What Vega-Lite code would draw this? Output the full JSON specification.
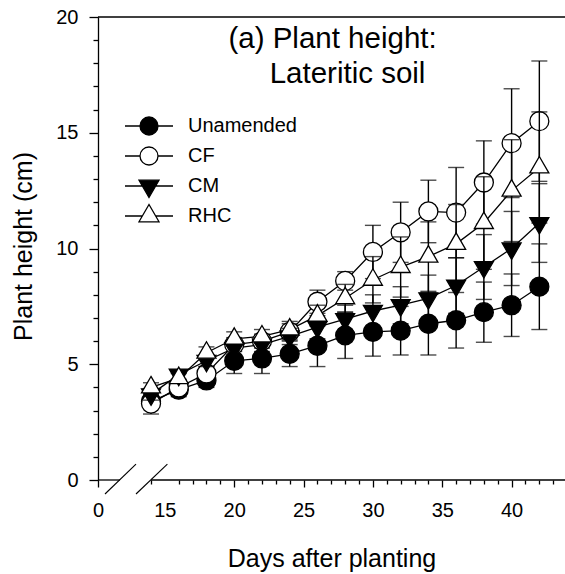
{
  "$schema": "https://vega.github.io/schema/vega-lite/v6.json",
  "width": 467,
  "height": 463,
  "autosize": "none",
  "padding": {"left": 98, "top": 17, "right": 0, "bottom": 94},
  "background": "white",
  "config": {"view": {"stroke": null}, "font": "Liberation Sans"},
  "resolve": {"scale": {"x": "independent", "y": "independent"}, "axis": {"x": "independent", "y": "independent"}},
  "data": {"values": [
    {"day": 14, "trt": "Unamended", "h": 3.4, "se": 0.3},
    {"day": 16, "trt": "Unamended", "h": 3.9, "se": 0.3},
    {"day": 18, "trt": "Unamended", "h": 4.3, "se": 0.3},
    {"day": 20, "trt": "Unamended", "h": 5.15, "se": 0.55},
    {"day": 22, "trt": "Unamended", "h": 5.25, "se": 0.65},
    {"day": 24, "trt": "Unamended", "h": 5.45, "se": 0.55},
    {"day": 26, "trt": "Unamended", "h": 5.8, "se": 0.9},
    {"day": 28, "trt": "Unamended", "h": 6.25, "se": 1.0},
    {"day": 30, "trt": "Unamended", "h": 6.4, "se": 1.05},
    {"day": 32, "trt": "Unamended", "h": 6.45, "se": 1.05},
    {"day": 34, "trt": "Unamended", "h": 6.75, "se": 1.35},
    {"day": 36, "trt": "Unamended", "h": 6.9, "se": 1.2},
    {"day": 38, "trt": "Unamended", "h": 7.25, "se": 1.3},
    {"day": 40, "trt": "Unamended", "h": 7.55, "se": 1.35},
    {"day": 42, "trt": "Unamended", "h": 8.35, "se": 1.85},
    {"day": 14, "trt": "CF", "h": 3.3, "se": 0.45},
    {"day": 16, "trt": "CF", "h": 4.0, "se": 0.3},
    {"day": 18, "trt": "CF", "h": 4.6, "se": 0.3},
    {"day": 20, "trt": "CF", "h": 5.85, "se": 0.3},
    {"day": 22, "trt": "CF", "h": 6.0, "se": 0.3},
    {"day": 24, "trt": "CF", "h": 6.4, "se": 0.35},
    {"day": 26, "trt": "CF", "h": 7.7, "se": 0.5},
    {"day": 28, "trt": "CF", "h": 8.6, "se": 0.4},
    {"day": 30, "trt": "CF", "h": 9.85, "se": 1.15},
    {"day": 32, "trt": "CF", "h": 10.7, "se": 1.3},
    {"day": 34, "trt": "CF", "h": 11.6, "se": 1.35},
    {"day": 36, "trt": "CF", "h": 11.55, "se": 1.95},
    {"day": 38, "trt": "CF", "h": 12.85, "se": 1.8},
    {"day": 40, "trt": "CF", "h": 14.55, "se": 2.35},
    {"day": 42, "trt": "CF", "h": 15.5, "se": 2.6},
    {"day": 14, "trt": "CM", "h": 3.7, "se": 0.25},
    {"day": 16, "trt": "CM", "h": 4.55, "se": 0.2},
    {"day": 18, "trt": "CM", "h": 5.15, "se": 0.25},
    {"day": 20, "trt": "CM", "h": 5.7, "se": 0.3},
    {"day": 22, "trt": "CM", "h": 5.85, "se": 0.3},
    {"day": 24, "trt": "CM", "h": 6.2, "se": 0.35},
    {"day": 26, "trt": "CM", "h": 6.6, "se": 0.5},
    {"day": 28, "trt": "CM", "h": 6.95, "se": 0.6},
    {"day": 30, "trt": "CM", "h": 7.3, "se": 0.7},
    {"day": 32, "trt": "CM", "h": 7.55, "se": 0.8},
    {"day": 34, "trt": "CM", "h": 7.85, "se": 1.0},
    {"day": 36, "trt": "CM", "h": 8.4, "se": 1.2},
    {"day": 38, "trt": "CM", "h": 9.2, "se": 1.4},
    {"day": 40, "trt": "CM", "h": 10.0, "se": 1.6},
    {"day": 42, "trt": "CM", "h": 11.1, "se": 1.7},
    {"day": 14, "trt": "RHC", "h": 4.0, "se": 0.2},
    {"day": 16, "trt": "RHC", "h": 4.4, "se": 0.2},
    {"day": 18, "trt": "RHC", "h": 5.5, "se": 0.25},
    {"day": 20, "trt": "RHC", "h": 6.1, "se": 0.3},
    {"day": 22, "trt": "RHC", "h": 6.2, "se": 0.3},
    {"day": 24, "trt": "RHC", "h": 6.5, "se": 0.35},
    {"day": 26, "trt": "RHC", "h": 7.1, "se": 0.45},
    {"day": 28, "trt": "RHC", "h": 7.85, "se": 0.6},
    {"day": 30, "trt": "RHC", "h": 8.65, "se": 1.0},
    {"day": 32, "trt": "RHC", "h": 9.2, "se": 1.3},
    {"day": 34, "trt": "RHC", "h": 9.65, "se": 1.5},
    {"day": 36, "trt": "RHC", "h": 10.2, "se": 1.7},
    {"day": 38, "trt": "RHC", "h": 11.1, "se": 2.0},
    {"day": 40, "trt": "RHC", "h": 12.5, "se": 2.2},
    {"day": 42, "trt": "RHC", "h": 13.5, "se": 2.4}
  ]},
  "layer": [
    {
      "encoding": {
        "x": {
          "field": "day", "type": "quantitative", "title": "Days after planting",
          "scale": {"domain": [0, 14, 43.85], "range": [0, 53, 467], "nice": false, "zero": false},
          "axis": {
            "values": [0, 14, 15, 16, 17, 18, 19, 20, 21, 22, 23, 24, 25, 26, 27, 28, 29, 30, 31, 32, 33, 34, 35, 36, 37, 38, 39, 40, 41, 42, 43],
            "labelExpr": "(datum.value === 0 || (datum.value >= 15 && datum.value % 5 === 0)) ? datum.label : ''",
            "tickSize": {"condition": {"test": "datum.value % 5 === 0", "value": 7}, "value": 4},
            "tickOpacity": {"condition": {"test": "datum.value === 15", "value": 0}, "value": 1},
            "domain": false, "grid": false, "orient": "bottom",
            "tickColor": "black", "tickWidth": 1.3,
            "labelFont": "Liberation Sans", "labelFontSize": 20, "labelColor": "black",
            "labelBaseline": "alphabetic", "labelPadding": 29,
            "labelFlush": false, "labelOverlap": false, "labelBound": false,
            "titleFont": "Liberation Sans", "titleFontSize": 25, "titleFontWeight": "normal", "titleColor": "black",
            "titleX": 233.5, "titleY": 86, "titleBaseline": "alphabetic", "titleAlign": "center"
          }
        },
        "y": {
          "field": "h", "type": "quantitative", "title": "Plant height (cm)",
          "scale": {"domain": [0, 20], "nice": false, "zero": false},
          "axis": {
            "values": [0, 1, 2, 3, 4, 5, 6, 7, 8, 9, 10, 11, 12, 13, 14, 15, 16, 17, 18, 19, 20],
            "labelExpr": "datum.value % 5 === 0 ? datum.label : ''",
            "tickSize": {"condition": {"test": "datum.value % 5 === 0", "value": 9}, "value": 5},
            "domain": true, "domainColor": "black", "domainWidth": 1.3, "grid": false, "orient": "left",
            "tickColor": "black", "tickWidth": 1.3,
            "labelFont": "Liberation Sans", "labelFontSize": 20, "labelColor": "black",
            "labelPadding": 11, "labelFlush": false, "labelOverlap": false, "labelBound": false,
            "titleFont": "Liberation Sans", "titleFontSize": 25, "titleFontWeight": "normal", "titleColor": "black",
            "titleX": -62, "titleY": 229, "titleAngle": -90, "titleBaseline": "bottom", "titleAlign": "center"
          }
        }
      },
      "layer": [
        {"mark": {"type": "line", "color": "black", "strokeWidth": 1.3},
         "encoding": {"detail": {"field": "trt", "type": "nominal"}}},
        {"transform": [{"filter": "datum.trt === 'Unamended'"}],
         "mark": {"type": "errorbar", "ticks": true, "size": 16, "thickness": 1.4, "color": "black"},
         "encoding": {"yError": {"field": "se"}}},
        {"transform": [{"filter": "datum.trt === 'Unamended'"}],
         "mark": {"type": "point", "shape": "circle", "filled": true, "fill": "black", "stroke": "black", "strokeWidth": 1.3, "size": 361, "opacity": 1}},
        {"transform": [{"filter": "datum.trt === 'CF'"}],
         "mark": {"type": "errorbar", "ticks": true, "size": 16, "thickness": 1.4, "color": "black"},
         "encoding": {"yError": {"field": "se"}}},
        {"transform": [{"filter": "datum.trt === 'CF'"}],
         "mark": {"type": "point", "shape": "circle", "filled": true, "fill": "white", "stroke": "black", "strokeWidth": 1.3, "size": 361, "opacity": 1}},
        {"transform": [{"filter": "datum.trt === 'CM'"}],
         "mark": {"type": "errorbar", "ticks": true, "size": 16, "thickness": 1.4, "color": "black"},
         "encoding": {"yError": {"field": "se"}}},
        {"transform": [{"filter": "datum.trt === 'CM'"}],
         "mark": {"type": "point", "shape": "M0,1.155L1,-0.577L-1,-0.577Z", "filled": true, "fill": "black", "stroke": "black", "strokeWidth": 1.3, "size": 361, "opacity": 1}},
        {"transform": [{"filter": "datum.trt === 'RHC'"}],
         "mark": {"type": "errorbar", "ticks": true, "size": 16, "thickness": 1.4, "color": "black"},
         "encoding": {"yError": {"field": "se"}}},
        {"transform": [{"filter": "datum.trt === 'RHC'"}],
         "mark": {"type": "point", "shape": "M0,-1.155L1,0.577L-1,0.577Z", "filled": true, "fill": "white", "stroke": "black", "strokeWidth": 1.3, "size": 361, "opacity": 1}}
      ]
    },
    {"transform": [{"filter": "false"}],
     "mark": {"type": "point", "filled": true, "strokeWidth": 1.3, "size": 2304, "opacity": 1},
     "encoding": {
       "shape": {"field": "trt", "type": "nominal",
         "scale": {"domain": ["Unamended", "CF", "CM", "RHC"],
                   "range": ["M-1,0H-0.375M0.375,0H1M0,-0.375A0.375,0.375 0 1,1 0,0.375A0.375,0.375 0 1,1 0,-0.375Z",
                             "M-1,0H-0.375M0.375,0H1M0,-0.375A0.375,0.375 0 1,1 0,0.375A0.375,0.375 0 1,1 0,-0.375Z",
                             "M-1,0H-0.278M0.278,0H1M-0.417,-0.241L0.417,-0.241L0,0.481Z",
                             "M-1,0H-0.278M0.278,0H1M-0.417,0.241L0.417,0.241L0,-0.481Z"]},
         "legend": {"title": null, "orient": "none", "legendX": 26, "legendY": 94, "padding": 0,
                    "labelFont": "Liberation Sans", "labelFontSize": 20, "labelColor": "black", "labelOffset": 14,
                    "symbolStrokeColor": "black", "symbolStrokeWidth": 1.3, "symbolSize": 2304, "symbolOpacity": 1,
                    "clipHeight": 30, "rowPadding": 0}},
       "fill": {"field": "trt", "type": "nominal",
         "scale": {"domain": ["Unamended", "CF", "CM", "RHC"], "range": ["black", "white", "black", "white"]},
         "legend": {"title": null, "orient": "none", "legendX": 26, "legendY": 94, "padding": 0,
                    "labelFont": "Liberation Sans", "labelFontSize": 20, "labelColor": "black", "labelOffset": 14,
                    "symbolStrokeColor": "black", "symbolStrokeWidth": 1.3, "symbolSize": 2304, "symbolOpacity": 1,
                    "clipHeight": 30, "rowPadding": 0}},
       "stroke": {"field": "trt", "type": "nominal",
         "scale": {"domain": ["Unamended", "CF", "CM", "RHC"], "range": ["black", "black", "black", "black"]},
         "legend": {"title": null, "orient": "none", "legendX": 26, "legendY": 94, "padding": 0,
                    "labelFont": "Liberation Sans", "labelFontSize": 20, "labelColor": "black", "labelOffset": 14,
                    "symbolStrokeColor": "black", "symbolStrokeWidth": 1.3, "symbolSize": 2304, "symbolOpacity": 1,
                    "clipHeight": 30, "rowPadding": 0}}
     }},
    {"data": {"values": [{}]}, "mark": {"type": "rule", "color": "black", "strokeWidth": 1.3},
     "encoding": {"x": {"datum": 0, "type": "quantitative", "axis": null, "scale": {"domain": [0, 14, 43.85], "range": [0, 53, 467], "nice": false, "zero": false}}, "x2": {"datum": 43.85},
                  "y": {"datum": 20, "type": "quantitative", "axis": null, "scale": {"domain": [0, 20], "nice": false, "zero": false}}}},
    {"data": {"values": [{}]}, "mark": {"type": "rule", "color": "black", "strokeWidth": 1.3},
     "encoding": {"x": {"datum": 0, "type": "quantitative", "axis": null, "scale": {"domain": [0, 14, 43.85], "range": [0, 53, 467], "nice": false, "zero": false}}, "x2": {"datum": 5.81},
                  "y": {"datum": 0, "type": "quantitative", "axis": null, "scale": {"domain": [0, 20], "nice": false, "zero": false}}}},
    {"data": {"values": [{}]}, "mark": {"type": "rule", "color": "black", "strokeWidth": 1.3},
     "encoding": {"x": {"datum": 14, "type": "quantitative", "axis": null, "scale": {"domain": [0, 14, 43.85], "range": [0, 53, 467], "nice": false, "zero": false}}, "x2": {"datum": 43.85},
                  "y": {"datum": 0, "type": "quantitative", "axis": null, "scale": {"domain": [0, 20], "nice": false, "zero": false}}}},
    {"data": {"values": [{}]}, "mark": {"type": "rule", "color": "black", "strokeWidth": 1.1},
     "encoding": {"x": {"datum": 1.85, "type": "quantitative", "axis": null, "scale": {"domain": [0, 14, 43.85], "range": [0, 53, 467], "nice": false, "zero": false}}, "x2": {"datum": 10.04},
                  "y": {"datum": -0.605, "type": "quantitative", "axis": null, "scale": {"domain": [0, 20], "nice": false, "zero": false}}, "y2": {"datum": 0.69}}},
    {"data": {"values": [{}]}, "mark": {"type": "rule", "color": "black", "strokeWidth": 1.1},
     "encoding": {"x": {"datum": 10.04, "type": "quantitative", "axis": null, "scale": {"domain": [0, 14, 43.85], "range": [0, 53, 467], "nice": false, "zero": false}}, "x2": {"datum": 15.18},
                  "y": {"datum": -0.605, "type": "quantitative", "axis": null, "scale": {"domain": [0, 20], "nice": false, "zero": false}}, "y2": {"datum": 0.69}}},
    {"data": {"values": [{}]},
     "mark": {"type": "text", "font": "Liberation Sans", "fontSize": 29.5, "align": "center", "baseline": "alphabetic", "color": "black"},
     "encoding": {"x": {"datum": 27.09, "type": "quantitative", "axis": null, "scale": {"domain": [0, 14, 43.85], "range": [0, 53, 467], "nice": false, "zero": false}},
                  "y": {"datum": 18.66, "type": "quantitative", "axis": null, "scale": {"domain": [0, 20], "nice": false, "zero": false}},
                  "text": {"value": "(a) Plant height:"}}},
    {"data": {"values": [{}]},
     "mark": {"type": "text", "font": "Liberation Sans", "fontSize": 29.5, "align": "center", "baseline": "alphabetic", "color": "black"},
     "encoding": {"x": {"datum": 28.17, "type": "quantitative", "axis": null, "scale": {"domain": [0, 14, 43.85], "range": [0, 53, 467], "nice": false, "zero": false}},
                  "y": {"datum": 17.14, "type": "quantitative", "axis": null, "scale": {"domain": [0, 20], "nice": false, "zero": false}},
                  "text": {"value": "Lateritic soil"}}}
  ]
}
